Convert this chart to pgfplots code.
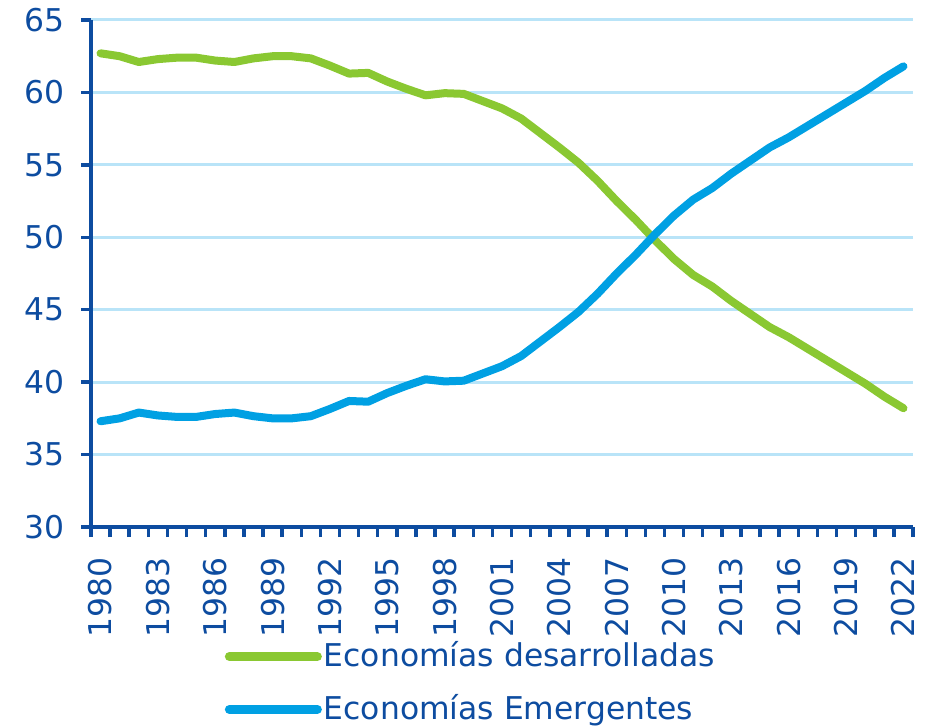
\documentclass[border=0pt]{standalone}
\usepackage{fontspec}
\setmainfont{DejaVu Sans}
\usepackage{pgfplots}
\pgfplotsset{compat=1.18}
\definecolor{cgreen}{RGB}{138,200,50}
\definecolor{cblue}{RGB}{0,160,227}
\definecolor{caxis}{RGB}{13,76,160}
\definecolor{cgrid}{RGB}{185,228,248}
\begin{document}
\fontsize{31.5}{38}\selectfont
\begin{tikzpicture}
\useasboundingbox (-91bp,-201bp) rectangle (848bp,527bp);
\begin{axis}[
  at={(0,0)}, anchor=south west,
  scale only axis,
  width=822bp, height=507bp,
  xmin=1979.5, xmax=2022.5,
  ymin=30, ymax=65,
  axis lines*=left,
  axis line style={line width=4.5bp, color=caxis},
  ytick={30,35,...,65},
  xtick={1979.5,1980.5,...,2022.5},
  xticklabels={},
  extra x ticks={1980,1983,...,2022},
  extra x tick style={major tick length=0pt, xticklabel shift=20bp},
  extra x tick labels={1980,1983,1986,1989,1992,1995,1998,2001,2004,2007,2010,2013,2016,2019,2022},
  tick align=outside,
  major tick length=10bp,
  every tick/.style={line width=3.5bp, color=caxis},
  xticklabel style={rotate=90, anchor=east, color=caxis, font=\fontsize{31.5}{38}\selectfont},
  yticklabel style={color=caxis, font=\fontsize{31.5}{38}\selectfont},
  /pgf/number format/assume math mode=true,
  /pgf/number format/set thousands separator={},
  yticklabel shift=6bp,
  ymajorgrids,
  major grid style={line width=3bp, color=cgrid},
  legend cell align=left,
  legend style={draw=none, fill=none, anchor=north west, at={(0.159,-0.218)},
    font=\fontsize{31.5}{38}\selectfont\color{caxis}, row sep=19bp,
    nodes={inner sep=2bp}},
  legend image code/.code={\draw[#1, line width=9bp, line cap=round] (0bp,0bp) -- (88bp,0bp);},
]
\addplot[color=cgreen, line width=8bp, line join=round, line cap=round] coordinates {
(1980,62.7) (1981,62.5) (1982,62.1) (1983,62.3) (1984,62.4) (1985,62.4)
(1986,62.2) (1987,62.1) (1988,62.35) (1989,62.5) (1990,62.5) (1991,62.35)
(1992,61.85) (1993,61.3) (1994,61.35) (1995,60.75) (1996,60.25) (1997,59.8)
(1998,59.95) (1999,59.9) (2000,59.4) (2001,58.9) (2002,58.2) (2003,57.2)
(2004,56.2) (2005,55.15) (2006,53.9) (2007,52.5) (2008,51.2) (2009,49.8)
(2010,48.5) (2011,47.4) (2012,46.6) (2013,45.6) (2014,44.7) (2015,43.8)
(2016,43.1) (2017,42.3) (2018,41.5) (2019,40.7) (2020,39.9) (2021,39.0)
(2022,38.2)
};
\addlegendentry{Economías desarrolladas}
\addplot[color=cblue, line width=8bp, line join=round, line cap=round] coordinates {
(1980,37.3) (1981,37.5) (1982,37.9) (1983,37.7) (1984,37.6) (1985,37.6)
(1986,37.8) (1987,37.9) (1988,37.65) (1989,37.5) (1990,37.5) (1991,37.65)
(1992,38.15) (1993,38.7) (1994,38.65) (1995,39.25) (1996,39.75) (1997,40.2)
(1998,40.05) (1999,40.1) (2000,40.6) (2001,41.1) (2002,41.8) (2003,42.8)
(2004,43.8) (2005,44.85) (2006,46.1) (2007,47.5) (2008,48.8) (2009,50.2)
(2010,51.5) (2011,52.6) (2012,53.4) (2013,54.4) (2014,55.3) (2015,56.2)
(2016,56.9) (2017,57.7) (2018,58.5) (2019,59.3) (2020,60.1) (2021,61.0)
(2022,61.8)
};
\addlegendentry{Economías Emergentes}
\end{axis}
\end{tikzpicture}
\end{document}
